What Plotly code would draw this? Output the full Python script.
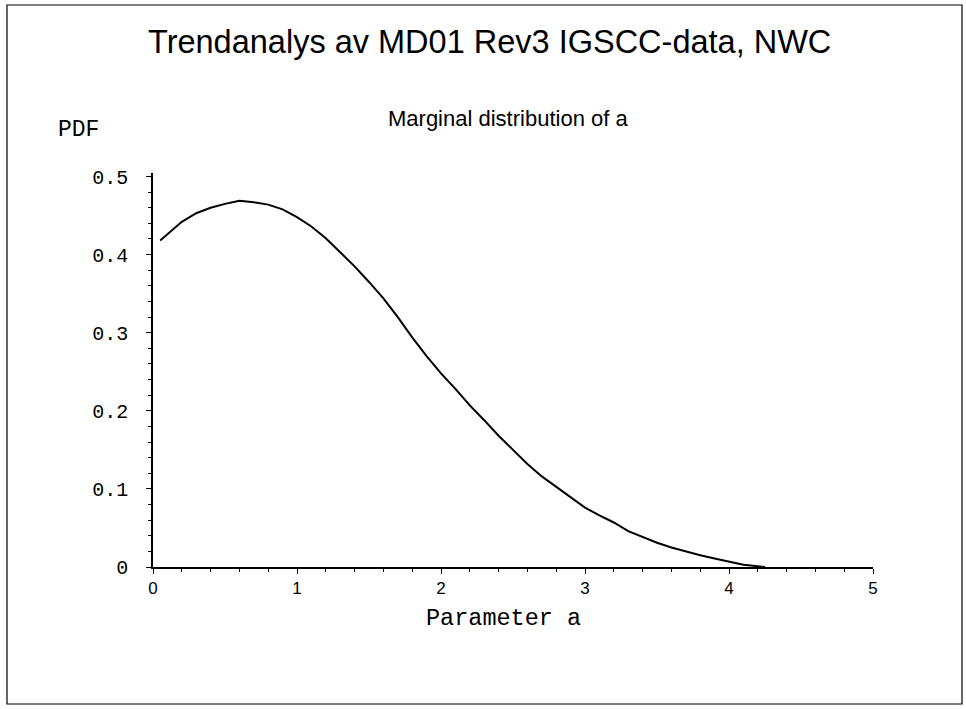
import plotly.graph_objects as go

# Marginal posterior density of the trend parameter a
param_a = [0.05, 0.10, 0.15, 0.20, 0.30, 0.40, 0.50, 0.60, 0.70, 0.80,
           0.90, 1.00, 1.10, 1.20, 1.30, 1.40, 1.50, 1.60, 1.70, 1.80,
           1.90, 2.00, 2.10, 2.20, 2.30, 2.40, 2.50, 2.60, 2.70, 2.80,
           2.90, 3.00, 3.10, 3.20, 3.30, 3.40, 3.50, 3.60, 3.70, 3.80,
           3.90, 4.00, 4.10, 4.20, 4.25]
pdf_a = [0.418, 0.426, 0.435, 0.442, 0.453, 0.460, 0.465, 0.469, 0.467, 0.464,
         0.458, 0.448, 0.436, 0.421, 0.403, 0.385, 0.365, 0.344, 0.320, 0.294,
         0.270, 0.248, 0.228, 0.207, 0.188, 0.168, 0.150, 0.132, 0.116, 0.103,
         0.089, 0.076, 0.066, 0.057, 0.046, 0.038, 0.031, 0.025, 0.020, 0.015,
         0.011, 0.007, 0.003, 0.001, 0.000]

x_ticks = [0, 1, 2, 3, 4, 5]
y_ticks = [0, 0.1, 0.2, 0.3, 0.4, 0.5]
y_tick_text = ["0", "0.1", "0.2", "0.3", "0.4", "0.5"]

title_text = "Trendanalys av MD01 Rev3 IGSCC-data, NWC"
subtitle_text = "Marginal distribution of a"
x_label = "Parameter a"
y_label = "PDF"

W, H = 966, 709
L, R, T, B = 153, 93, 173, 142
PW, PH = W - L - R, H - T - B

SANS = "Liberation Sans, Arial, Helvetica, sans-serif"
MONO = "Courier New, Liberation Mono, monospace"


def px(xp):
    return (xp - L) / PW


def py(yp):
    return (H - B - yp) / PH


fig = go.Figure()
fig.add_trace(go.Scatter(
    x=param_a, y=pdf_a, mode="lines",
    line=dict(color="black", width=2),
    showlegend=False, hoverinfo="x+y",
))

fig.update_layout(
    width=W, height=H,
    margin=dict(l=L, r=R, t=T, b=B, pad=0),
    paper_bgcolor="white", plot_bgcolor="white",
    xaxis=dict(
        range=[0, 5], tickvals=x_ticks, ticktext=[str(v) for v in x_ticks],
        showgrid=False, zeroline=False, showline=True,
        linecolor="black", linewidth=1.5,
        ticks="outside", ticklen=5, tickwidth=1, tickcolor="black",
        tickfont=dict(family=SANS, size=17, color="black"),
        minor=dict(dtick=0.2, ticks="outside", ticklen=3, tickcolor="black",
                   showgrid=False),
    ),
    yaxis=dict(
        range=[0, 0.5045], tickvals=y_ticks, ticktext=y_tick_text,
        showgrid=False, zeroline=False, showline=True,
        linecolor="black", linewidth=1.5,
        ticks="outside", ticklen=5, tickwidth=1, tickcolor="black",
        tickfont=dict(family=MONO, size=20, color="black"),
        ticklabelstandoff=14,
        minor=dict(dtick=0.02, ticks="outside", ticklen=3, tickcolor="black",
                   showgrid=False),
    ),
)

annotations = [
    dict(text=title_text, x=px(489), y=py(42), font=dict(family=SANS, size=32.5, color="black")),
    dict(text=subtitle_text, x=px(508), y=py(118), font=dict(family=SANS, size=22, color="black")),
    dict(text=y_label, x=px(78), y=py(130), font=dict(family=MONO, size=23, color="black")),
    dict(text=x_label, x=px(503), y=py(618), font=dict(family=MONO, size=23.5, color="black")),
]
for a in annotations:
    a.update(xref="paper", yref="paper", xanchor="center", yanchor="middle",
             showarrow=False)
fig.update_layout(annotations=annotations)

# outer frame of the page
fig.add_shape(type="rect", xref="paper", yref="paper",
              x0=px(7), x1=px(962), y0=py(704), y1=py(5),
              line=dict(color="black", width=1.2), layer="below")

fig.write_html("out.html")
